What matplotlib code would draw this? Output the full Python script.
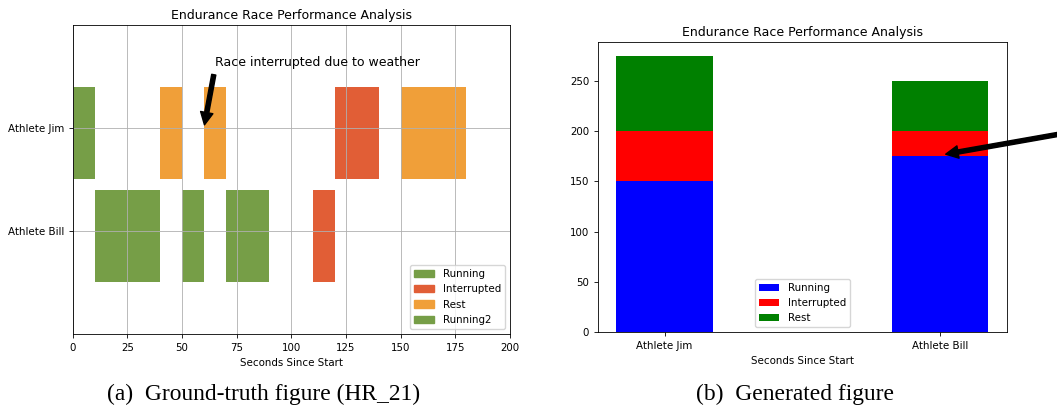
import matplotlib.pyplot as plt
from matplotlib.patches import Patch

# Left panel: timeline of each athlete (start, duration) in seconds
athletes = ['Athlete Bill', 'Athlete Jim']
jim_running = [(0, 10)]
jim_rest = [(40, 10), (60, 10), (150, 30)]
jim_interrupted = [(120, 20)]
bill_running = [(10, 30), (50, 10), (70, 20)]
bill_interrupted = [(110, 10)]
legend_left = ['Running', 'Interrupted', 'Rest', 'Running2']

# Right panel: stacked totals per athlete
names = ['Athlete Jim', 'Athlete Bill']
running = [150, 175]
interrupted = [50, 25]
rest = [75, 50]

green = '#769e47'
red = '#e15e36'
orange = '#f09f39'

plt.rcParams['font.size'] = 7.4
plt.rcParams['axes.linewidth'] = 0.6
plt.rcParams['xtick.major.width'] = 0.6
plt.rcParams['ytick.major.width'] = 0.6
plt.rcParams['xtick.major.size'] = 2.7
plt.rcParams['ytick.major.size'] = 2.7
plt.rcParams['grid.linewidth'] = 0.6

fig = plt.figure(figsize=(10.57, 4.12), dpi=100)

# (a) ground truth broken bar chart
ax1 = fig.add_axes([0.0688, 0.1893, 0.4137, 0.7507])
ax1.broken_barh(jim_running, (20, 9), facecolors=green)
ax1.broken_barh(jim_rest, (20, 9), facecolors=orange)
ax1.broken_barh(jim_interrupted, (20, 9), facecolors=red)
ax1.broken_barh(bill_running, (10, 9), facecolors=green)
ax1.broken_barh(bill_interrupted, (10, 9), facecolors=red)
ax1.set_ylim(5, 35)
ax1.set_xlim(0, 200)
ax1.set_yticks([15, 25])
ax1.set_yticklabels(athletes)
ax1.set_xlabel('Seconds Since Start', labelpad=4)
ax1.set_title('Endurance Race Performance Analysis', fontsize=9.0, pad=4)
ax1.grid(True)
ax1.annotate('Race interrupted due to weather', xy=(60, 25), xytext=(65, 31),
             fontsize=9.0,
             arrowprops=dict(facecolor='black', shrink=0.05, width=3, headwidth=9, headlength=9))
handles = [Patch(color=c) for c in [green, red, orange, green]]
ax1.legend(handles, legend_left, loc='lower right', fontsize=7.4)

# (b) generated stacked bar chart
ax2 = fig.add_axes([0.5655, 0.1934, 0.3872, 0.7053])
x = range(len(names))
ax2.bar(x, running, 0.35, color='blue', label='Running')
ax2.bar(x, interrupted, 0.35, bottom=running, color='red', label='Interrupted')
bottom2 = [r + i for r, i in zip(running, interrupted)]
ax2.bar(x, rest, 0.35, bottom=bottom2, color='green', label='Rest')
ax2.set_xticks(list(x))
ax2.set_xticklabels(names)
ax2.set_xlabel('Seconds Since Start', labelpad=3.5)
ax2.set_title('Endurance Race Performance Analysis', fontsize=9.0, pad=4)
ax2.legend(loc='lower center', fontsize=7.4)
ax2.annotate('', xy=(1.02, 177), xytext=(1.6, 205), annotation_clip=False,
             arrowprops=dict(facecolor='black', shrink=0, width=3, headwidth=9, headlength=9))

# captions
fig.text(0.249, 0.0425, '(a)  Ground-truth figure (HR_21)', ha='center', va='center',
         family='Liberation Serif', fontsize=16.9)
fig.text(0.752, 0.0425, '(b)  Generated figure', ha='center', va='center',
         family='Liberation Serif', fontsize=16.9)

fig.savefig('out.png', dpi=100)
